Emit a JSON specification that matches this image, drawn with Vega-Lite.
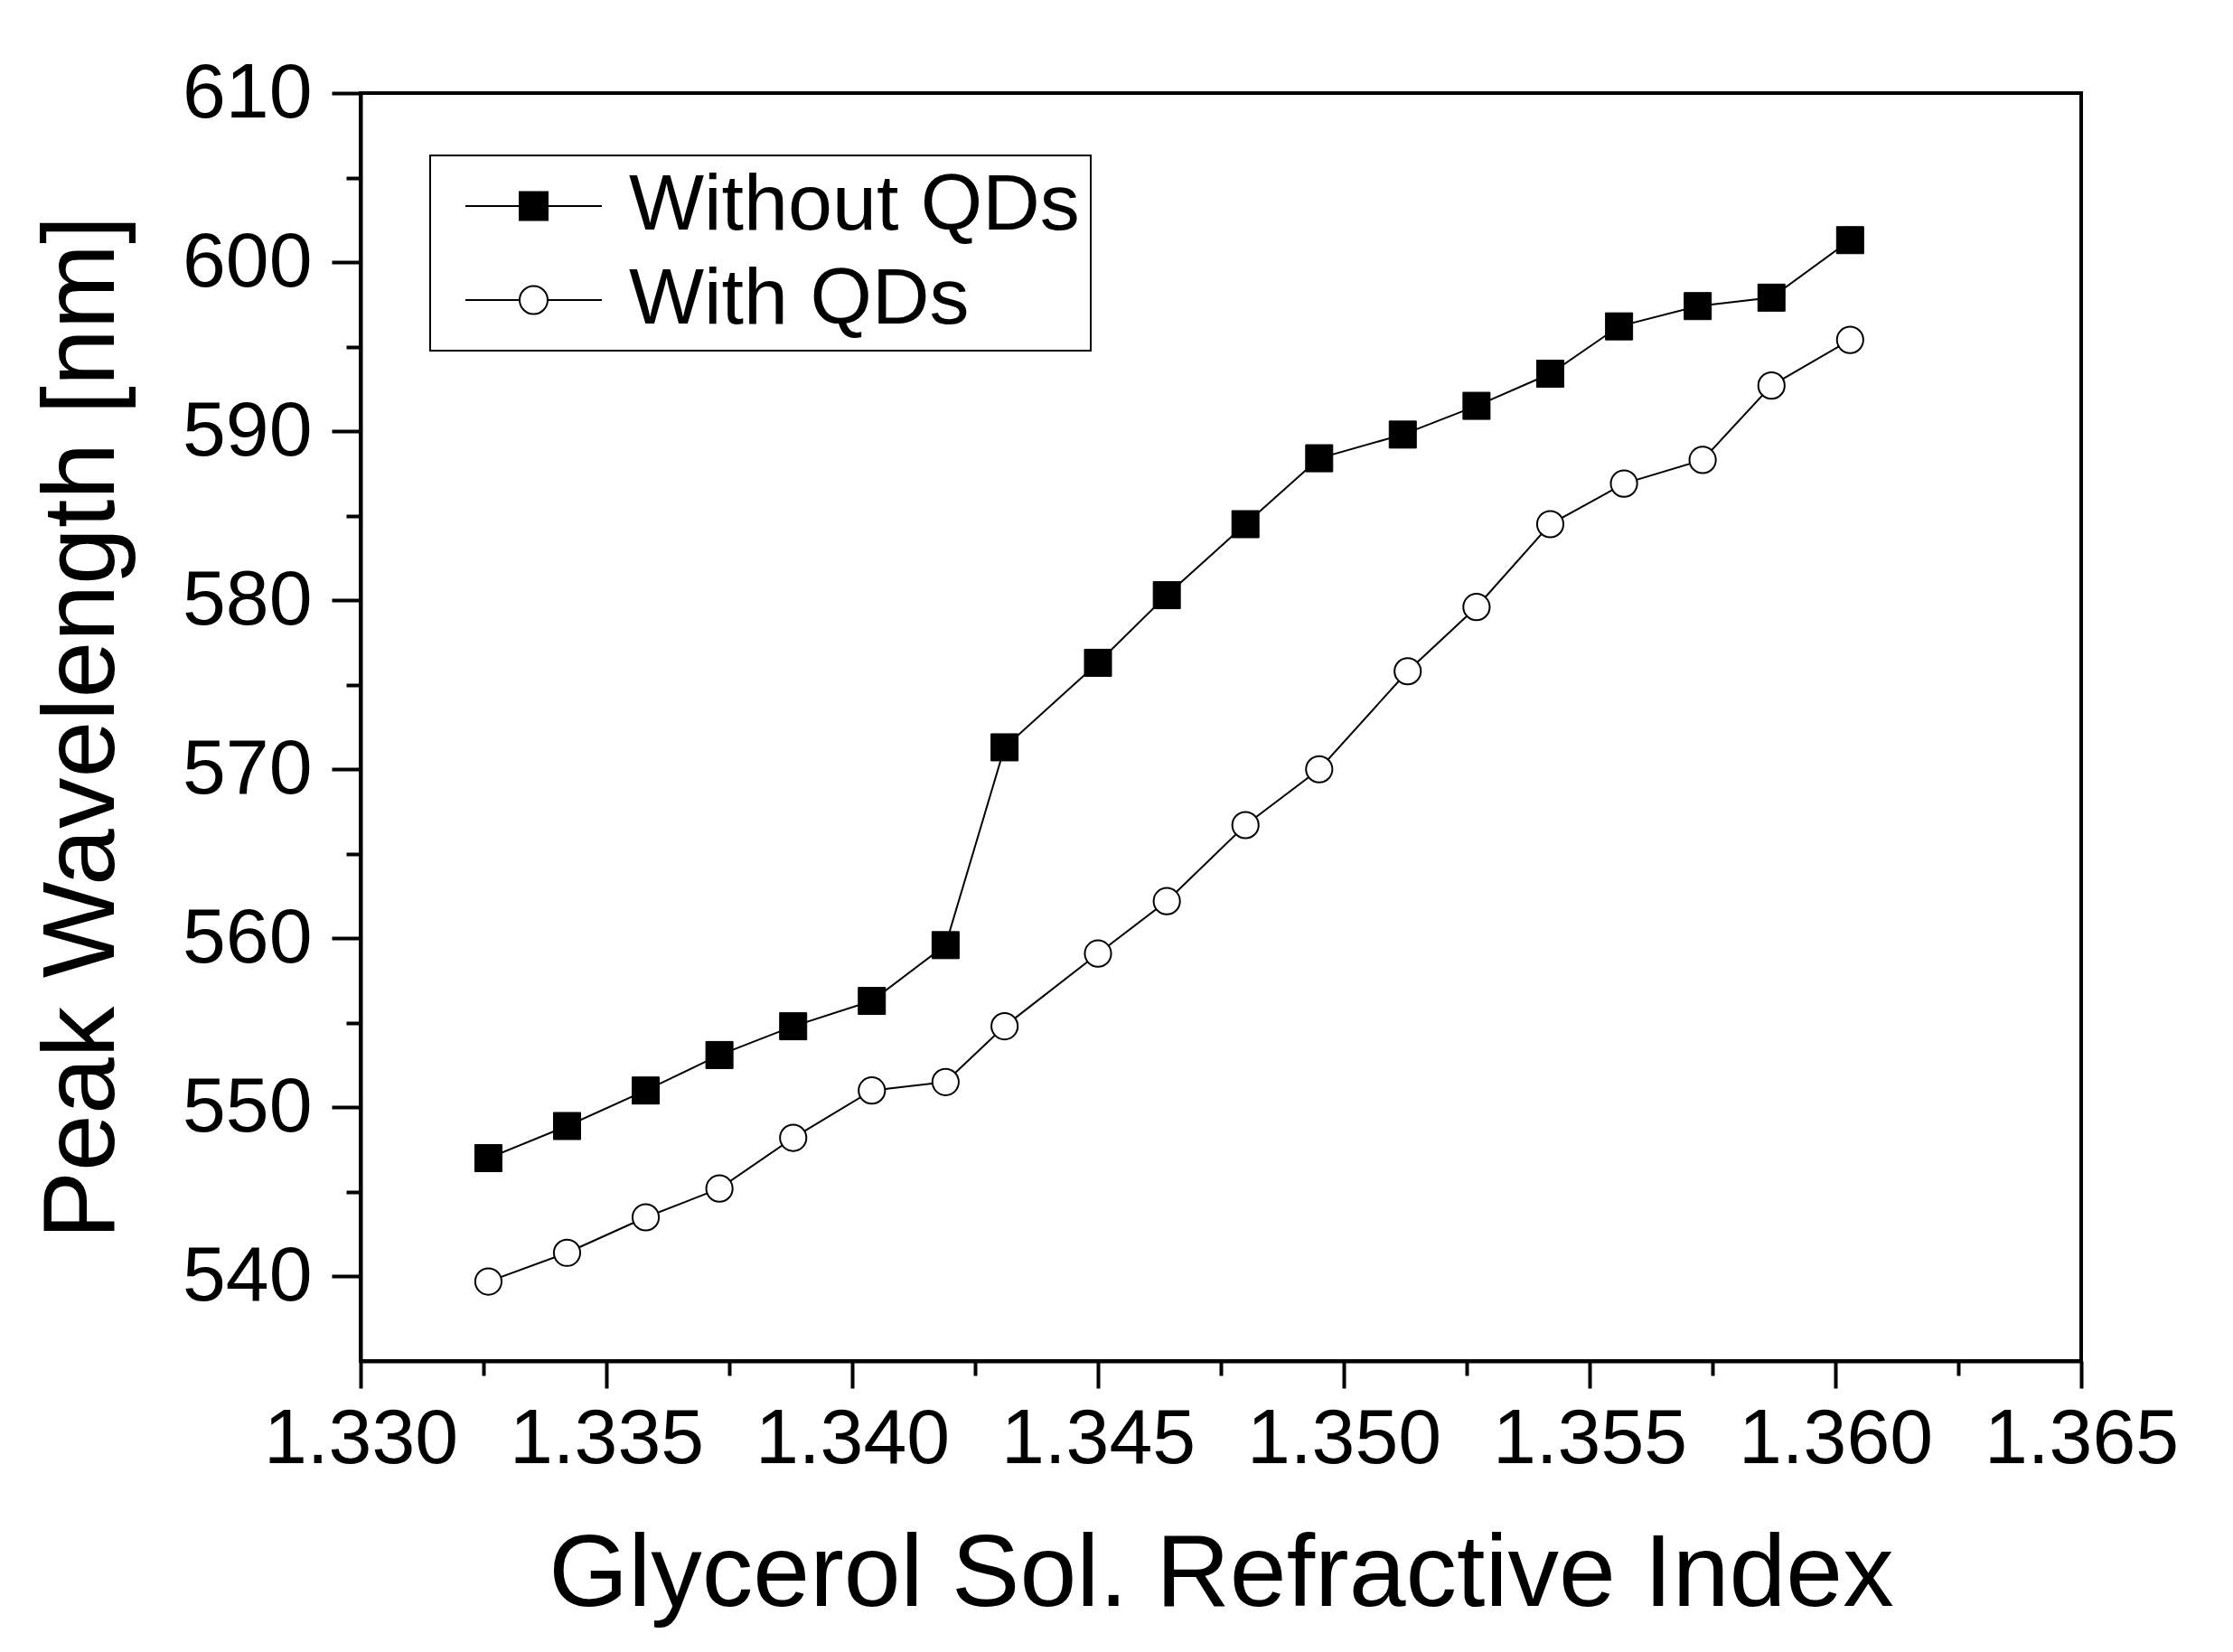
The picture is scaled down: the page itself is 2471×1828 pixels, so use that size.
{
  "$schema": "https://vega.github.io/schema/vega-lite/v6.json",
  "width": 1904,
  "height": 1403,
  "autosize": {"type": "none"},
  "padding": {"left": 399, "top": 103, "right": 168, "bottom": 322},
  "background": "white",
  "config": {
    "view": {"stroke": "black", "strokeWidth": 4},
    "font": "Liberation Sans",
    "legend": {"strokeWidth": 2},
    "axis": {
      "domainColor": "black", "domainWidth": 4, "tickColor": "black", "tickWidth": 4,
      "grid": false, "labelFont": "Liberation Sans", "labelColor": "black", "labelFontSize": 86, "labelLimit": 2000,
      "titleColor": "black", "titleFont": "Liberation Sans", "titleFontWeight": "normal", "titleFontSize": 113
    }
  },
  "datasets": {
    "pts": [
      {"s": "Without QDs", "n": 1.3326, "wl": 547.0},
      {"s": "Without QDs", "n": 1.3342, "wl": 548.9},
      {"s": "Without QDs", "n": 1.3358, "wl": 551.0},
      {"s": "Without QDs", "n": 1.3373, "wl": 553.1},
      {"s": "Without QDs", "n": 1.3388, "wl": 554.8},
      {"s": "Without QDs", "n": 1.3404, "wl": 556.3},
      {"s": "Without QDs", "n": 1.3419, "wl": 559.6},
      {"s": "Without QDs", "n": 1.3431, "wl": 571.3},
      {"s": "Without QDs", "n": 1.3450, "wl": 576.3},
      {"s": "Without QDs", "n": 1.3464, "wl": 580.3},
      {"s": "Without QDs", "n": 1.3480, "wl": 584.5},
      {"s": "Without QDs", "n": 1.3495, "wl": 588.4},
      {"s": "Without QDs", "n": 1.3512, "wl": 589.8},
      {"s": "Without QDs", "n": 1.3527, "wl": 591.5},
      {"s": "Without QDs", "n": 1.3542, "wl": 593.4},
      {"s": "Without QDs", "n": 1.3556, "wl": 596.2},
      {"s": "Without QDs", "n": 1.3572, "wl": 597.4},
      {"s": "Without QDs", "n": 1.3587, "wl": 597.9},
      {"s": "Without QDs", "n": 1.3603, "wl": 601.3},
      {"s": "With QDs", "n": 1.3326, "wl": 539.7},
      {"s": "With QDs", "n": 1.3342, "wl": 541.4},
      {"s": "With QDs", "n": 1.3358, "wl": 543.5},
      {"s": "With QDs", "n": 1.3373, "wl": 545.2},
      {"s": "With QDs", "n": 1.3388, "wl": 548.2},
      {"s": "With QDs", "n": 1.3404, "wl": 551.0},
      {"s": "With QDs", "n": 1.3419, "wl": 551.5},
      {"s": "With QDs", "n": 1.3431, "wl": 554.8},
      {"s": "With QDs", "n": 1.3450, "wl": 559.1},
      {"s": "With QDs", "n": 1.3464, "wl": 562.2},
      {"s": "With QDs", "n": 1.3480, "wl": 566.7},
      {"s": "With QDs", "n": 1.3495, "wl": 570.0},
      {"s": "With QDs", "n": 1.3513, "wl": 575.8},
      {"s": "With QDs", "n": 1.3527, "wl": 579.6},
      {"s": "With QDs", "n": 1.3542, "wl": 584.5},
      {"s": "With QDs", "n": 1.3557, "wl": 586.9},
      {"s": "With QDs", "n": 1.3573, "wl": 588.3},
      {"s": "With QDs", "n": 1.3587, "wl": 592.7},
      {"s": "With QDs", "n": 1.3603, "wl": 595.4}
    ]
  },
  "data": {"name": "pts"},
  "resolve": {"axis": {"x": "independent", "y": "independent"}},
  "layer": [
    {
      "mark": {"type": "point", "opacity": 0},
      "encoding": {
        "x": {"field": "n", "type": "quantitative", "scale": {"domain": [1.33, 1.365], "nice": false, "zero": false},
          "axis": {"orient": "bottom", "values": [1.330, 1.335, 1.340, 1.345, 1.350, 1.355, 1.360, 1.365], "format": ".3f", "tickSize": 30, "labelPadding": 14, "title": "Glycerol Sol. Refractive Index", "titlePadding": 52, "labelFlush": false, "labelOverlap": false}},
        "y": {"field": "wl", "type": "quantitative", "scale": {"domain": [535, 610], "nice": false, "zero": false},
          "axis": {"orient": "left", "values": [540, 550, 560, 570, 580, 590, 600, 610], "tickSize": 32, "labelPadding": 22, "title": "Peak Wavelength [nm]", "titlePadding": 52, "labelFlush": false, "labelOverlap": false}}
      }
    },
    {
      "mark": {"type": "point", "opacity": 0},
      "encoding": {
        "x": {"field": "n", "type": "quantitative",
          "axis": {"orient": "bottom", "values": [1.3325, 1.3375, 1.3425, 1.3475, 1.3525, 1.3575, 1.3625], "tickSize": 16, "labels": false, "domain": false, "title": null}},
        "y": {"field": "wl", "type": "quantitative",
          "axis": {"orient": "left", "values": [545, 555, 565, 575, 585, 595, 605], "tickSize": 16, "labels": false, "domain": false, "title": null}}
      }
    },
    {
      "mark": {"type": "line", "color": "black", "strokeWidth": 2},
      "encoding": {
        "x": {"field": "n", "type": "quantitative", "axis": null},
        "y": {"field": "wl", "type": "quantitative", "axis": null},
        "detail": {"field": "s", "type": "nominal"}
      }
    },
    {
      "transform": [{"filter": "datum.s === 'Without QDs'"}],
      "mark": {"type": "point", "shape": "square", "filled": true, "fill": "black", "stroke": "black", "strokeWidth": 1, "size": 900, "opacity": 1},
      "encoding": {
        "x": {"field": "n", "type": "quantitative", "axis": null},
        "y": {"field": "wl", "type": "quantitative", "axis": null}
      }
    },
    {
      "transform": [{"filter": "datum.s === 'With QDs'"}],
      "mark": {"type": "point", "shape": "circle", "filled": true, "fill": "white", "stroke": "black", "strokeWidth": 2, "size": 850, "opacity": 1},
      "encoding": {
        "x": {"field": "n", "type": "quantitative", "axis": null},
        "y": {"field": "wl", "type": "quantitative", "axis": null}
      }
    },
    {
      "mark": {"type": "point", "filled": true, "opacity": 0, "stroke": "black", "strokeWidth": 2},
      "encoding": {
        "x": {"field": "n", "type": "quantitative", "axis": null},
        "y": {"field": "wl", "type": "quantitative", "axis": null},
        "shape": {"field": "s", "type": "nominal",
          "scale": {"domain": ["Without QDs", "With QDs"], "range": ["M-0.567,0H4.467M1.433,-0.517H2.467V0.517H1.433Z", "M-0.567,0H1.433M2.467,0H4.467M2.467,0A0.517,0.517 0 1,1 1.433,0A0.517,0.517 0 1,1 2.467,0Z"]},
          "legend": {"orient": "none", "legendX": 77, "legendY": 69, "title": null, "strokeColor": "black", "fillColor": "white", "padding": 12, "labelFontSize": 88, "labelFont": "Liberation Sans", "labelColor": "black", "labelLimit": 2000, "symbolSize": 3600, "symbolStrokeWidth": 2, "symbolStrokeColor": "black", "symbolOpacity": 1, "labelOffset": 120, "rowPadding": 16,
            "encode": {"symbols": {"update": {"stroke": {"value": "black"}, "strokeWidth": {"value": 2}, "opacity": {"value": 1}, "strokeOpacity": {"value": 1}, "fillOpacity": {"value": 1}}}}}},
        "fill": {"field": "s", "type": "nominal",
          "scale": {"domain": ["Without QDs", "With QDs"], "range": ["black", "white"]},
          "legend": {"orient": "none", "legendX": 77, "legendY": 69, "title": null, "strokeColor": "black", "fillColor": "white", "padding": 12, "labelFontSize": 88, "labelFont": "Liberation Sans", "labelColor": "black", "labelLimit": 2000, "symbolSize": 3600, "symbolStrokeWidth": 2, "symbolStrokeColor": "black", "symbolOpacity": 1, "labelOffset": 120, "rowPadding": 16,
            "encode": {"symbols": {"update": {"stroke": {"value": "black"}, "strokeWidth": {"value": 2}, "opacity": {"value": 1}, "strokeOpacity": {"value": 1}, "fillOpacity": {"value": 1}}}}}}
      }
    }
  ]
}
